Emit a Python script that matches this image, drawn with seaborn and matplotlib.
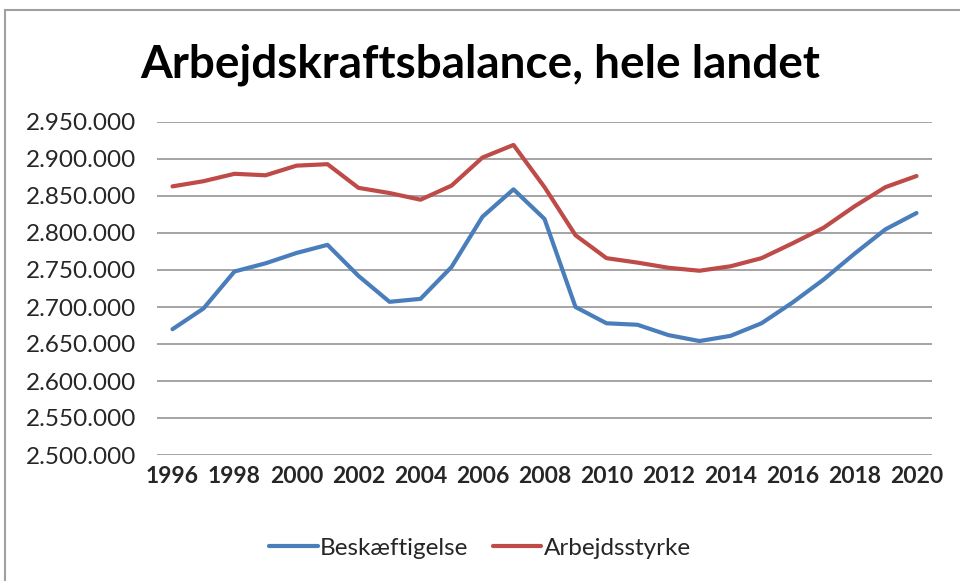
import pandas as pd
import seaborn as sns
import matplotlib.pyplot as plt
from matplotlib.patches import Rectangle
from matplotlib.ticker import FuncFormatter

years = list(range(1996, 2021))
beskaeftigelse = [2670000, 2698000, 2748000, 2759000, 2773000, 2784000, 2742000, 2707000,
                  2711000, 2754000, 2822000, 2859000, 2819000, 2700000, 2678000, 2676000,
                  2662000, 2654000, 2661000, 2678000, 2706000, 2737000, 2772000, 2805000,
                  2827000]
arbejdsstyrke = [2863000, 2870000, 2880000, 2878000, 2891000, 2893000, 2861000, 2854000,
                 2845000, 2864000, 2902000, 2919000, 2862000, 2797000, 2766000, 2760000,
                 2753000, 2749000, 2755000, 2766000, 2786000, 2807000, 2836000, 2862000,
                 2877000]
series_names = ["Beskæftigelse", "Arbejdsstyrke"]
colors = ["#4A7EBB", "#BE4B48"]
y_ticks = list(range(2500000, 2950001, 50000))
x_ticks = list(range(1996, 2021, 2))

df = pd.DataFrame({
    "År": years * 2,
    "Antal": beskaeftigelse + arbejdsstyrke,
    "Serie": [series_names[0]] * len(years) + [series_names[1]] * len(years),
})

sns.set_theme(style="white")
plt.rcParams["font.family"] = ["Lato", "DejaVu Sans"]

fig = plt.figure(figsize=(9.6, 5.81), dpi=100)
ax = fig.add_axes([157 / 960, (581 - 455) / 581, (932 - 157) / 960, (455 - 122) / 581])

# chart frame like the Excel chart area
fig.patches.append(Rectangle((5 / 960, -0.05), 1.1, (581 - 10) / 581 + 0.05,
                             transform=fig.transFigure, fill=False,
                             edgecolor="#a0a0a0", linewidth=1.5))

sns.lineplot(data=df, x="År", y="Antal", hue="Serie", palette=colors,
             linewidth=3, ax=ax, legend=False)

ax.set_xlim(1995.5, 2020.5)
ax.set_ylim(2500000, 2950000)
ax.set_yticks(y_ticks)
ax.set_xticks(x_ticks)
ax.yaxis.set_major_formatter(FuncFormatter(lambda v, p: f"{int(v):,}".replace(",", ".")))
ax.grid(axis="y", color="#8c8c8c", linewidth=1.1)
ax.set_axisbelow(True)
for s in ax.spines.values():
    s.set_visible(False)
ax.tick_params(axis="y", labelsize=17.5, pad=15, length=0)
ax.tick_params(axis="x", labelsize=16.5, pad=8, length=0)
for lab in ax.get_xticklabels():
    lab.set_fontweight("bold")
ax.set_xlabel("")
ax.set_ylabel("")

fig.text(0.5, (581 - 65) / 581, "Arbejdskraftsbalance, hele landet",
         ha="center", va="center", fontsize=33, fontweight="bold", color="black")

handles = [plt.Line2D([], [], color=c, linewidth=3) for c in colors]
fig.legend(handles, series_names, loc="center", bbox_to_anchor=(0.5, (581 - 548) / 581),
           ncol=2, frameon=False, fontsize=17.5, handlelength=2.0, handletextpad=0.1,
           columnspacing=1.0)

fig.savefig("out.png", dpi=100)
